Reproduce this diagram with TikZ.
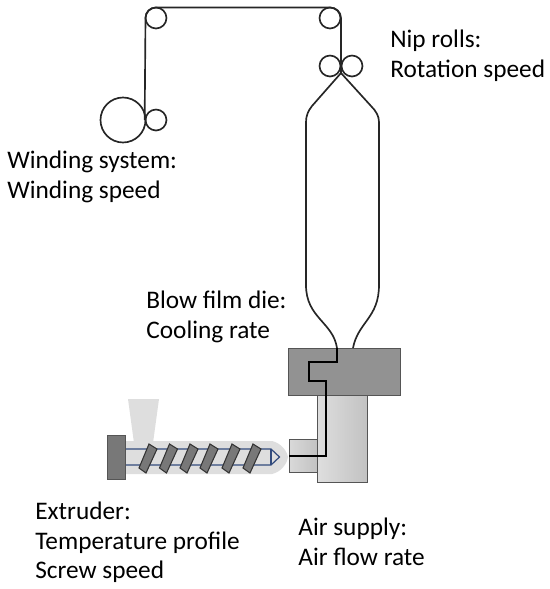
\documentclass[tikz,border=0pt]{standalone}
\usepackage{fontspec}
\setmainfont{Carlito}
\usepackage{xcolor}
\usetikzlibrary{calc}
\definecolor{halogray}{RGB}{222,222,222}
\definecolor{diegray}{RGB}{146,146,146}
\definecolor{edgegray}{RGB}{85,85,85}
\definecolor{flangegray}{RGB}{120,120,120}
\definecolor{screwblue}{RGB}{50,75,125}

\begin{document}
\begin{tikzpicture}[
  x=0.02cm, y=-0.02cm,
  every node/.style={font=\fontsize{14.4pt}{16.8pt}\selectfont},
  roll/.style={draw=black!85, line width=0.95pt, circle, inner sep=0pt, minimum size=0.42cm},
  bigroll/.style={roll, minimum size=0.9cm},
  film/.style={draw=black!85, line width=0.95pt},
  melt/.style={draw=black, line width=1.4pt, line join=miter},
  block/.style={draw=edgegray, line width=0.7pt, inner sep=0pt, anchor=north west},
  label/.style={align=left, anchor=north west, inner sep=0pt},
  flight/.style={draw=black!80, fill=flangegray, line width=0.6pt}
]
\useasboundingbox (0,0) rectangle (550,589);

% rolls
\node[roll] (guideL) at (156,18) {};
\node[roll] (guideR) at (330,18) {};
\node[roll] (nipL) at (330,66) {};
\node[roll] (nipR) at (352,66) {};
\node[bigroll] (wind) at (123,120) {};
\node[roll] (press) at (156,120) {};

% extruder
\fill[halogray] (125,441) -- (272,441) .. controls (281,443) and (287,451) .. (288,457)
  .. controls (287,464) and (281,472) .. (272,474) -- (125,474) -- cycle;
\fill[halogray] (128,399) -- (159,399) -- (153,443) -- (134,443) -- cycle;
\node[block, fill=flangegray, minimum width=0.36cm, minimum height=0.88cm] (flange) at (107,435) {};
\coordinate (screwA) at (flange.east |- 0,449);
\coordinate (screwB) at (flange.east |- 0,465);
\coordinate (tipA) at (271,449);
\coordinate (tipB) at (271,465);
\coordinate (tip) at (279.5,457);
\draw[screwblue, line width=0.7pt] (screwA) -- (tipA) -- (tip) -- (tipB) -- (screwB);
\draw[screwblue, line width=0.7pt] (tipA) -- (tipB);
\foreach \xs in {0,20.5,41,61,83,104}
  \draw[flight] (139+\xs,468) -- (149+\xs,444) -- (157+\xs,449) -- (146+\xs,473) -- cycle;

% die and air supply
\node[block, left color=black!13, right color=black!24, minimum width=1.0cm, minimum height=1.74cm] (tower) at (317,395) {};
\node[block, left color=black!15, right color=black!24, minimum width=0.56cm, minimum height=0.66cm] (inlet) at (289,439) {};
\node[block, fill=diegray, minimum width=2.24cm, minimum height=0.94cm] (die) at (288,348) {};
\coordinate (dieL) at (337,348);
\coordinate (dieR) at (353,348);
\draw[melt] (dieL) -- (337,362) -- (309,362) -- (309,381) -- (326,381) -- (326,456) -- (inlet.west |- 0,456);

% film
\draw[film] (press.west) -- (145.5,18) .. controls (145.5,12) and (150,7.5) .. (156,7.5) -- (330,7.5)
  .. controls (336,7.5) and (341,12) .. (341,18) -- (341,73);
\draw[film] (341,73) -- (312,106) .. controls (308,111) and (306,116) .. (306,122) -- (306,285)
  .. controls (306,318) and (333,322) .. (dieL);
\draw[film] (341,73) -- (371,106) .. controls (376,111) and (379,116) .. (379,122) -- (379,285)
  .. controls (379,318) and (358,322) .. (dieR);

% labels
\node[label] (nip) at (390,30) {Nip rolls:\\Rotation speed};
\node[label] (winding) at (7,151) {Winding system:\\Winding speed};
\node[label] (blow) at (146,291) {Blow film die:\\Cooling rate};
\node[label] (extruder) at (35,502) {Extruder:\\Temperature profile\\Screw speed};
\node[label] (air) at (298,518) {Air supply:\\Air flow rate};
\end{tikzpicture}
\end{document}
